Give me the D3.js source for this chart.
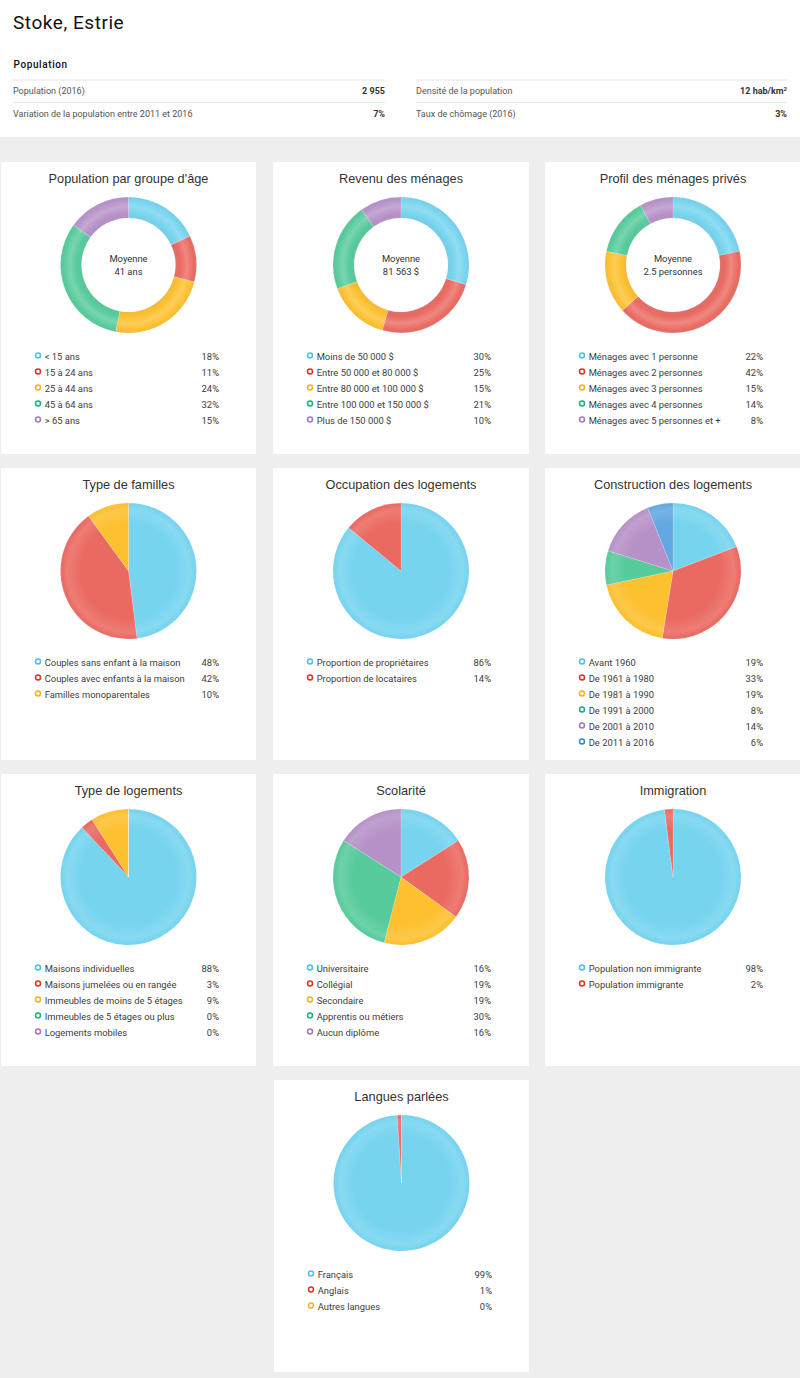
<!DOCTYPE html>
<html lang="fr"><head><meta charset="utf-8">
<script src="https://cdn.jsdelivr.net/npm/d3@7"></script>
<style>html,body{margin:0;padding:0;background:#eee}svg{display:block}text{font-family:Roboto,sans-serif}</style>
</head><body><div id="c"></div>
<script>
const placeTitle = "Stoke, Estrie";
const sectionTitle = "Population";
const statsLeft = [["Population (2016)","2 955"],["Variation de la population entre 2011 et 2016","7%"]];
const statsRight = [["Densité de la population","12 hab/km"],["Taux de chômage (2016)","3%"]];

const ageLabels = ["< 15 ans","15 à 24 ans","25 à 44 ans","45 à 64 ans","> 65 ans"];
const ageValues = [18,11,24,32,15];
const revenuLabels = ["Moins de 50 000 $","Entre 50 000 et 80 000 $","Entre 80 000 et 100 000 $","Entre 100 000 et 150 000 $","Plus de 150 000 $"];
const revenuValues = [30,25,15,21,10];
const menageLabels = ["Ménages avec 1 personne","Ménages avec 2 personnes","Ménages avec 3 personnes","Ménages avec 4 personnes","Ménages avec 5 personnes et +"];
const menageValues = [22,42,15,14,8];
const familleLabels = ["Couples sans enfant à la maison","Couples avec enfants à la maison","Familles monoparentales"];
const familleValues = [48,42,10];
const occupationLabels = ["Proportion de propriétaires","Proportion de locataires"];
const occupationValues = [86,14];
const constructionLabels = ["Avant 1960","De 1961 à 1980","De 1981 à 1990","De 1991 à 2000","De 2001 à 2010","De 2011 à 2016"];
const constructionValues = [19,33,19,8,14,6];
const logementLabels = ["Maisons individuelles","Maisons jumelées ou en rangée","Immeubles de moins de 5 étages","Immeubles de 5 étages ou plus","Logements mobiles"];
const logementValues = [88,3,9,0,0];
const scolariteLabels = ["Universitaire","Collégial","Secondaire","Apprentis ou métiers","Aucun diplôme"];
const scolariteValues = [16,19,19,30,16];
const immigrationLabels = ["Population non immigrante","Population immigrante"];
const immigrationValues = [98,2];
const langueLabels = ["Français","Anglais","Autres langues"];
const langueValues = [99,1,0];

const sliceColors = ["#76d4ef","#ea6a62","#fdc02f","#57cb9c","#b792c8","#62a8e2"];
const markerColors = ["#4fc0e2","#d8342c","#fbb01c","#1fae7c","#a577ba","#2f87d2"];

const charts = [
 {t:"Population par groupe d'âge",l:ageLabels,v:ageValues,c:"Moyenne",c2:"41 ans"},
 {t:"Revenu des ménages",l:revenuLabels,v:revenuValues,c:"Moyenne",c2:"81 563 $"},
 {t:"Profil des ménages privés",l:menageLabels,v:menageValues,c:"Moyenne",c2:"2.5 personnes"},
 {t:"Type de familles",l:familleLabels,v:familleValues},
 {t:"Occupation des logements",l:occupationLabels,v:occupationValues},
 {t:"Construction des logements",l:constructionLabels,v:constructionValues},
 {t:"Type de logements",l:logementLabels,v:logementValues},
 {t:"Scolarité",l:scolariteLabels,v:scolariteValues},
 {t:"Immigration",l:immigrationLabels,v:immigrationValues},
 {t:"Langues parlées",l:langueLabels,v:langueValues,col:1,dx:1}
];

const W=800,H=1378;
const svg=d3.select("#c").append("svg").attr("width",W).attr("height",H);
const defs=svg.append("defs");
svg.append("rect").attr("width",W).attr("height",H).attr("fill","#eeeeee");
svg.append("rect").attr("width",W).attr("height",137).attr("fill","#fff");

svg.append("text").attr("x",13).attr("y",29).attr("font-size",19).attr("letter-spacing",0.55).attr("fill","#111").text(placeTitle);
svg.append("text").attr("x",13.5).attr("y",68).attr("font-size",10).attr("font-weight",500).attr("letter-spacing",0.6).attr("fill","#111").text(sectionTitle);

function stats(rows,x0,x1){
  rows.forEach((r,i)=>{
    const y=80+i*22.5;
    svg.append("line").attr("x1",x0).attr("x2",x1).attr("y1",y).attr("y2",y).attr("stroke","#e6e6e6");
    svg.append("text").attr("x",x0).attr("y",y+14).attr("font-size",9).attr("fill","#555").text(r[0]);
    const v=svg.append("text").attr("x",x1).attr("y",y+14).attr("text-anchor","end").attr("font-size",9).attr("font-weight",700).attr("fill","#333").text(r[1]);
    if(r[1].endsWith("km")) v.append("tspan").attr("font-size",6).attr("dy",-3).text("2");
  });
}
stats(statsLeft,13,385);
stats(statsRight,416,787);

const colX=[1,273,545], colW=[255,256,255], rowY=[162,468,774,1080], cardH=292;
const R=68, rIn=47;
const pie=d3.pie().sort(null).value(d=>d);

charts.forEach((ch,i)=>{
  const col=ch.col!==undefined?ch.col:i%3, row=Math.floor(i/3), dx=ch.dx||0;
  const x=colX[col]+dx, y=rowY[row], w=colW[col]-dx, cx=x+w/2+(col===2?0.5:0), cy=y+103;
  const g=svg.append("g");
  g.append("rect").attr("x",x).attr("y",y).attr("width",w).attr("height",cardH).attr("fill","#fff");
  g.append("text").attr("x",cx).attr("y",y+20.5).attr("text-anchor","middle").attr("font-size",12.75).style("font-family","'Liberation Sans',Arial,sans-serif").attr("fill","#333").text(ch.t);
  const inner=ch.c?rIn:0;
  const arc=d3.arc().innerRadius(inner).outerRadius(R);
  g.selectAll("path.s").data(pie(ch.v)).join("path").attr("class","s")
    .attr("transform",`translate(${cx},${cy})`)
    .attr("d",arc)
    .attr("fill",(d,k)=>{
      const id=`g${i}_${k}`, c=sliceColors[k];
      const gr=defs.append("radialGradient").attr("id",id).attr("gradientUnits","userSpaceOnUse")
        .attr("cx",0).attr("cy",0).attr("r",R);
      const lite=d3.interpolateRgb(c,"#fff")(ch.c?0.2:0.13), dark=d3.interpolateRgb(c,"#888")(0.12);
      const stops=ch.c?[[rIn/R,dark],[0.76,c],[0.86,lite],[0.96,c],[1,dark]]
                      :[[0,c],[0.7,c],[0.9,lite],[0.985,c],[1,dark]];
      stops.forEach(s=>gr.append("stop").attr("offset",s[0]).attr("stop-color",s[1]));
      return `url(#${id})`;
    })
    .attr("stroke","#fff").attr("stroke-opacity",0.3).attr("stroke-width",0.5);
  if(ch.c){
    g.append("text").attr("x",cx).attr("y",cy-3).attr("text-anchor","middle").attr("font-size",9.4).attr("fill","#333").text(ch.c);
    g.append("text").attr("x",cx).attr("y",cy+10).attr("text-anchor","middle").attr("font-size",9.4).attr("fill","#333").text(ch.c2);
  }
  const legY=d3.scaleLinear().domain([0,1]).range([y+194.5,y+210.5]);
  const mx=x+37, tx=x+43.7, vx=x+218;
  ch.l.forEach((lab,k)=>{
    const ly=legY(k);
    g.append("circle").attr("cx",mx).attr("cy",ly-1).attr("r",2.5).attr("fill","#fff").attr("stroke",markerColors[k]).attr("stroke-width",1.5);
    g.append("text").attr("x",tx).attr("y",ly+3.4).attr("font-size",9.4).attr("fill","#3c3c3c").text(lab);
    g.append("text").attr("x",vx).attr("y",ly+3.4).attr("text-anchor","end").attr("font-size",9.4).attr("fill","#3c3c3c").text(ch.v[k]+"%");
  });
});
</script></body></html>
